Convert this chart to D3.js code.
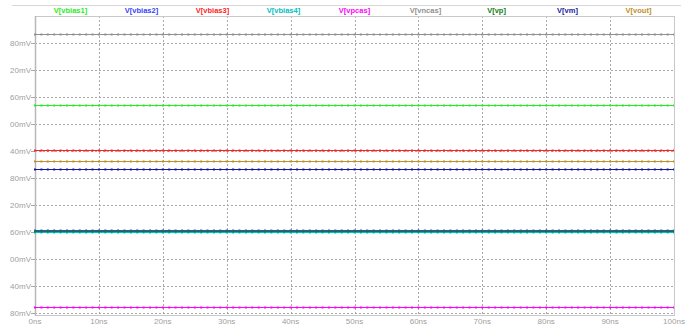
<!DOCTYPE html>
<html>
<head>
<meta charset="utf-8">
<script src="https://cdn.jsdelivr.net/npm/d3@7"></script>
<style>
  body { margin: 0; background: #fff; }
  text { font-family: "Liberation Sans", Arial, sans-serif; }
</style>
</head>
<body>
<div id="chart"></div>
<script>
// traces (mV), constant over the run
const names = ["V[vbias1]", "V[vbias2]", "V[vbias3]", "V[vbias4]", "V[vpcas]", "V[vncas]", "V[vp]", "V[vm]", "V[vout]"];
const levels = [542, 265, 442, 260, 94, 700, 262, 399, 417];
const colors = ["#22ee22", "#3344ff", "#ff2222", "#00c0c0", "#ff00ff", "#909090", "#108010", "#1a1aa0", "#c09028"];
const timeSpan = [0, 100]; // ns
const yTicks = [80, 140, 200, 260, 320, 380, 440, 500, 560, 620, 680];
const xTicks = [0, 10, 20, 30, 40, 50, 60, 70, 80, 90, 100];

const width = 690, height = 325;
const mLeft = 35, mRight = 674, mTop = 16, mBottom = 315;

const svg = d3.select("#chart").append("svg")
  .attr("width", width).attr("height", height);

const x = d3.scaleLinear().domain(timeSpan).range([mLeft, mRight]);
const y = d3.scaleLinear().domain([75.6, 740]).range([mBottom, mTop]);

// outer top line of legend band
svg.append("line")
  .attr("x1", 12).attr("x2", 681).attr("y1", 5.5).attr("y2", 5.5)
  .attr("stroke", "#d8d8d8");

// grid
svg.append("g").selectAll("line").data(yTicks).enter().append("line")
  .attr("x1", mLeft).attr("x2", mRight)
  .attr("y1", d => Math.round(y(d)) + 0.5).attr("y2", d => Math.round(y(d)) + 0.5)
  .attr("stroke", "#a8a8a8").attr("stroke-dasharray", "2,2");
svg.append("g").selectAll("line").data(xTicks.slice(1, -1)).enter().append("line")
  .attr("y1", mTop).attr("y2", mBottom)
  .attr("x1", d => Math.round(x(d)) + 0.5).attr("x2", d => Math.round(x(d)) + 0.5)
  .attr("stroke", "#a8a8a8").attr("stroke-dasharray", "2,2");

// frame
svg.append("rect")
  .attr("x", mLeft + 0.5).attr("y", mTop + 0.5)
  .attr("width", mRight - mLeft).attr("height", mBottom - mTop)
  .attr("fill", "none").attr("stroke", "#c8c8c8");
svg.append("line")
  .attr("x1", mLeft + 0.5).attr("x2", mLeft + 0.5).attr("y1", mTop).attr("y2", mBottom + 1)
  .attr("stroke", "#b8b8b8").attr("stroke-width", 1.5);

// y labels, clipped on the left like the original
svg.append("clipPath").attr("id", "yclip")
  .append("rect").attr("x", 10).attr("y", 0).attr("width", 30).attr("height", height);
const yl = svg.append("g").attr("clip-path", "url(#yclip)");
yl.selectAll("text").data(yTicks).enter().append("text")
  .attr("x", 31).attr("y", d => y(d) + 3)
  .attr("text-anchor", "end")
  .attr("font-size", "8px").attr("fill", "#a0a0a0")
  .text(d => d + "mV");
svg.append("g").selectAll("line").data(yTicks).enter().append("line")
  .attr("x1", 31).attr("x2", mLeft)
  .attr("y1", d => Math.round(y(d)) + 0.5).attr("y2", d => Math.round(y(d)) + 0.5)
  .attr("stroke", "#a8a8a8");

// x labels
svg.append("g").selectAll("text").data(xTicks).enter().append("text")
  .attr("x", d => x(d)).attr("y", 324)
  .attr("text-anchor", "middle")
  .attr("font-size", "8px").attr("fill", "#a0a0a0")
  .text(d => d + "ns");

// traces
const step = x(1) - x(0);
const traces = svg.append("g").selectAll("g").data(levels).enter().append("g");
traces.append("line")
  .attr("x1", x(timeSpan[0])).attr("x2", x(timeSpan[1]))
  .attr("y1", d => Math.round(y(d)) + 0.5).attr("y2", d => Math.round(y(d)) + 0.5)
  .attr("stroke", (d, i) => colors[i]).attr("stroke-width", 1);
traces.append("line")
  .attr("x1", x(timeSpan[0]) - 1).attr("x2", x(timeSpan[1]))
  .attr("y1", d => Math.round(y(d)) + 0.5).attr("y2", d => Math.round(y(d)) + 0.5)
  .attr("stroke", (d, i) => colors[i]).attr("stroke-width", 2)
  .attr("stroke-dasharray", "2," + (step - 2));

// legend
const slot = (mRight - mLeft) / names.length;
svg.append("g").selectAll("text").data(names).enter().append("text")
  .attr("x", (d, i) => mLeft + slot * (i + 0.5)).attr("y", 13)
  .attr("text-anchor", "middle")
  .attr("font-size", "7.5px").attr("font-weight", "bold")
  .attr("fill", (d, i) => colors[i])
  .text(d => d);
</script>
</body>
</html>
